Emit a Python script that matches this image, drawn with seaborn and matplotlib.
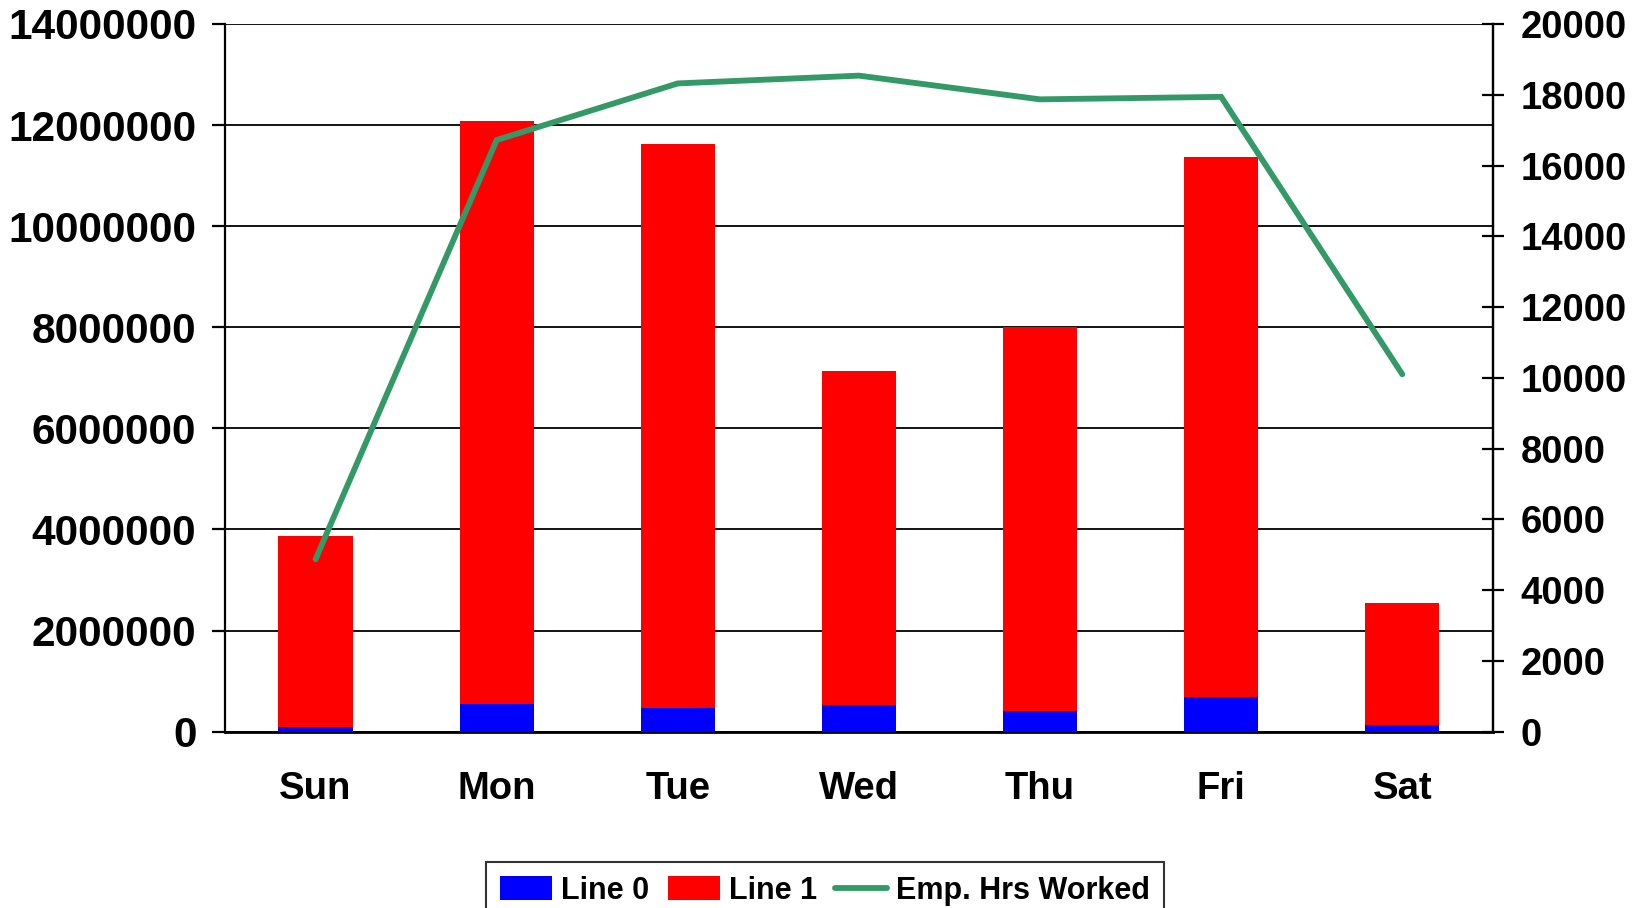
import numpy as np
import pandas as pd
import matplotlib
matplotlib.use("Agg")
import matplotlib.pyplot as plt
from matplotlib.patches import Patch
from matplotlib.lines import Line2D
import seaborn as sns

# Weekly volume by production line, with employee hours worked
days = ["Sun", "Mon", "Tue", "Wed", "Thu", "Fri", "Sat"]
line0 = [93000, 554000, 475000, 528000, 410000, 687000, 130000]
line1 = [3778000, 11526000, 11155000, 6602000, 7590000, 10683000, 2410000]
emp_hours = [4870, 16720, 18320, 18540, 17870, 17940, 10100]

left_ticks = list(range(0, 14000001, 2000000))
right_ticks = list(range(0, 20001, 2000))

BLUE = "#0000FF"
RED = "#FF0000"
GREEN = "#339966"

sns.set_theme(style="white")
plt.rcParams["font.family"] = ["Liberation Sans", "DejaVu Sans"]
plt.rcParams["font.weight"] = "bold"

df = pd.DataFrame({"day": days, "line0": line0, "line1": line1})
df["total"] = df["line0"] + df["line1"]

fig = plt.figure(figsize=(16.36, 9.08), dpi=100)
ax = fig.add_axes([0.1375, 0.1942, 0.775, 0.7794])

# Stacked bars: full height in red, lower segment in blue on top
sns.barplot(data=df, x="day", y="total", color=RED, width=0.41,
            saturation=1, ax=ax, zorder=2)
sns.barplot(data=df, x="day", y="line0", color=BLUE, width=0.41,
            saturation=1, ax=ax, zorder=3)
for p in ax.patches:
    p.set_edgecolor("none")
    p.set_linewidth(0)

ax.set_xlim(-0.5, len(days) - 0.5)
ax.set_ylim(0, 14000000)
ax.set_yticks(left_ticks)
ax.set_yticklabels([str(t) for t in left_ticks])
ax.yaxis.grid(True, color="black", linewidth=1.3)
ax.set_axisbelow(True)
ax.set_xlabel("")
ax.set_ylabel("")

# Category labels at bar centres, tick marks at category boundaries
ax.set_xticks(range(len(days)))
ax.set_xticklabels(days)
ax.set_xticks(np.arange(-0.5, len(days), 1.0), minor=True)
ax.tick_params(axis="x", which="major", length=0, pad=28, labelsize=27.5)
ax.tick_params(axis="x", which="minor", length=9, width=1.6,
               direction="out", color="black")
ax.tick_params(axis="y", which="major", length=9.5, width=1.6,
               direction="out", color="black", pad=11, labelsize=30.5)

for side in ["left", "bottom", "right"]:
    ax.spines[side].set_visible(True)
    ax.spines[side].set_color("black")
ax.spines["left"].set_linewidth(1.6)
ax.spines["bottom"].set_linewidth(2.0)
ax.spines["right"].set_linewidth(1.6)
ax.spines["top"].set_visible(False)

for lbl in ax.get_xticklabels() + ax.get_yticklabels():
    lbl.set_fontweight("bold")
    lbl.set_color("black")

# Employee hours on the secondary axis
ax2 = ax.twinx()
sns.lineplot(x=np.arange(len(days)), y=emp_hours, color=GREEN,
             linewidth=4.2, ax=ax2, zorder=5, solid_capstyle="round",
             solid_joinstyle="miter")
ax2.set_ylim(0, 20000)
ax2.set_yticks(right_ticks)
ax2.set_yticklabels([str(t) for t in right_ticks])
ax2.tick_params(axis="y", length=16, width=1.6, direction="inout",
                color="black", pad=12, labelsize=27.5)
for lbl in ax2.get_yticklabels():
    lbl.set_fontweight("bold")
    lbl.set_color("black")
for side in ["left", "bottom", "top"]:
    ax2.spines[side].set_visible(False)
ax2.spines["right"].set_visible(True)
ax2.spines["right"].set_color("black")
ax2.spines["right"].set_linewidth(1.6)
ax2.set_ylabel("")
ax2.grid(False)

handles = [
    Patch(facecolor=BLUE, edgecolor="none", label="Line 0"),
    Patch(facecolor=RED, edgecolor="none", label="Line 1"),
    Line2D([0], [0], color=GREEN, linewidth=4.2, solid_capstyle="round",
           label="Emp. Hrs Worked"),
]
leg = fig.legend(handles=handles, loc="upper center", ncol=3,
                 bbox_to_anchor=(0.5045, 0.0507), frameon=True,
                 fancybox=False, edgecolor="black", labelcolor="black",
                 prop={"weight": "bold", "size": 22},
                 handlelength=1.7, handleheight=0.8, handletextpad=0.3,
                 columnspacing=0.6, borderpad=0.45, borderaxespad=0)
leg.get_frame().set_linewidth(1.5)

fig.savefig("out.png", dpi=100)
